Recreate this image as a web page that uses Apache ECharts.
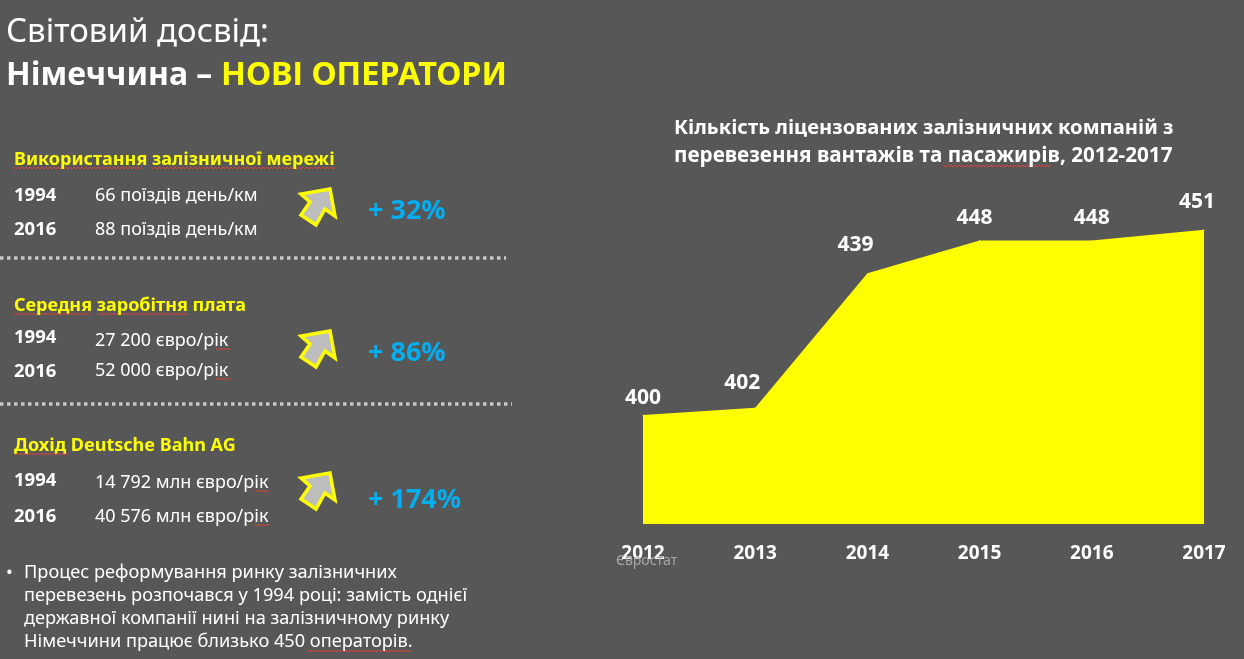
<!DOCTYPE html>
<html style="height: 100%">
<head>
<meta charset="utf-8">
<title>Німеччина – нові оператори</title>
<style>
  html, body { margin: 0; height: 100%; background: #575757; }
  #container { width: 1244px; height: 659px; }
</style>
</head>
<body>
<div id="container"></div>
<script src="https://cdn.jsdelivr.net/npm/echarts@6/dist/echarts.min.js"></script>
<script>
// chart data
var years = ['2012', '2013', '2014', '2015', '2016', '2017'];
var operators = [400, 402, 439, 448, 448, 451];

// left panel texts
var blockTitles = ['Використання залізничної мережі', 'Середня заробітня плата', 'Дохід Deutsche Bahn AG'];
var rowYears = ['1994', '2016', '1994', '2016', '1994', '2016'];
var rowTexts = ['66 поїздів день/км', '88 поїздів день/км', '27 200 євро/рік', '52 000 євро/рік', '14 792 млн євро/рік', '40 576 млн євро/рік'];
var growth = ['+ 32%', '+ 86%', '+ 174%'];
var noteLines = [
  'Процес реформування ринку залізничних',
  'перевезень розпочався у 1994 році: замість однієї',
  'державної компанії нині на залізничному ринку',
  'Німеччини працює близько 450 операторів.'
];
var chartTitle = ['Кількість ліцензованих залізничних компаній з', 'перевезення вантажів та пасажирів, 2012-2017'];

var FONT = '"Noto Sans", "Open Sans", sans-serif';
var BLUE = '#00aeef', YELLOW = '#ffff00';

// layout of the left panel
var blockY = [160, 306, 446];
var rowYearY = [196, 230, 338, 372, 481, 517];
var rowTextY = [196, 230, 341, 371, 483, 517];
var growthY = [211, 353, 500];
var arrowShift = [0, 142, 284];
var titleSize = [20.2, 20.7];
var labelShift = [[0, -1], [-13, -9], [-12, -12], [-5, -7], [0, -7], [-7, -12]];

function text(x, y, str, size, color, bold) {
  return {
    type: 'text', x: x, y: y, z: 10,
    style: {
      text: str, fill: color, fontFamily: FONT,
      fontSize: size, fontWeight: bold ? 'bold' : 'normal', textVerticalAlign: 'middle'
    }
  };
}

// spell-check underline
function squiggle(x1, x2, y) {
  var pts = [];
  for (var x = x1, i = 0; x <= x2; x += 2, i++) pts.push([x, y + (i % 2 ? 2 : 0)]);
  return { type: 'polyline', z: 9, shape: { points: pts }, style: { stroke: '#d8433c', lineWidth: 1, fill: null } };
}

function dotted(x2, y) {
  return {
    type: 'line', z: 5, shape: { x1: 0, y1: y, x2: x2, y2: y },
    style: { stroke: '#c8c8c8', lineWidth: 3.5, lineDash: [3.5, 3.5] }
  };
}

function arrow(dy) {
  return {
    type: 'polygon', z: 6, y: dy,
    shape: { points: [[330, 189], [301, 194], [310, 202], [301, 215], [316, 225], [325, 209], [335, 216]] },
    style: { fill: '#bdbdbd', stroke: YELLOW, lineWidth: 3.5, lineJoin: 'miter' }
  };
}

var graphics = [
  text(6, 33, 'Світовий досвід:', 33, '#ffffff', false),
  text(6, 76, 'Німеччина – ', 32, '#ffffff', true),
  text(221, 76, 'НОВІ ОПЕРАТОРИ', 32.4, YELLOW, true),
  dotted(506, 258),
  dotted(512, 404)
];

blockTitles.forEach(function (t, i) {
  graphics.push(text(14, blockY[i], t, 18, YELLOW, true));
  graphics.push(arrow(arrowShift[i]));
  graphics.push(text(368, growthY[i], growth[i], 27, BLUE, true));
});
rowYears.forEach(function (t, i) {
  graphics.push(text(14, rowYearY[i], t, 18.5, '#ffffff', true));
  graphics.push(text(95, rowTextY[i], rowTexts[i], 18, '#ffffff', false));
});
noteLines.forEach(function (t, i) {
  graphics.push(text(24, 573 + i * 23, t, 18.2, '#ffffff', false));
});
graphics.push(text(6, 573, '•', 18, '#ffffff', false));
chartTitle.forEach(function (t, i) {
  graphics.push(text(674, 128 + i * 28, t, titleSize[i], '#ffffff', true));
});
graphics.push(text(616, 561, 'Євростат', 14, '#a6a6a6', false));

// underlines from the screenshot
graphics.push(
  squiggle(14, 143, 167), squiggle(151, 336, 167),
  squiggle(14, 91, 313), squiggle(98, 189, 313),
  squiggle(14, 68, 453),
  squiggle(216, 231, 348), squiggle(216, 231, 378),
  squiggle(255, 270, 490), squiggle(255, 270, 524),
  squiggle(943, 1052, 165),
  squiggle(307, 412, 650)
);

var myChart = echarts.init(document.getElementById('container'));
var option = {
  animation: false,
  backgroundColor: '#575757',
  grid: { left: 643, top: 197, width: 561, height: 327 },
  xAxis: {
    type: 'category', data: years, boundaryGap: false,
    axisLine: { show: false }, axisTick: { show: false },
    axisLabel: { color: '#ffffff', fontFamily: FONT, fontSize: 19, fontWeight: 'bold', margin: 20 }
  },
  yAxis: { type: 'value', min: 370, max: 460, show: false, splitLine: { show: false } },
  series: [{
    type: 'line', symbol: 'circle', symbolSize: 1, showAllSymbol: true, smooth: false,
    itemStyle: { color: YELLOW },
    data: operators.map(function (v, i) {
      return { value: v, label: { offset: labelShift[i] } };
    }),
    lineStyle: { width: 0 },
    areaStyle: { color: YELLOW, opacity: 1 },
    label: {
      show: true, position: 'top', color: '#ffffff',
      fontFamily: FONT, fontSize: 21, fontWeight: 'bold'
    }
  }],
  graphic: { elements: graphics }
};
myChart.setOption(option);
</script>
</body>
</html>
